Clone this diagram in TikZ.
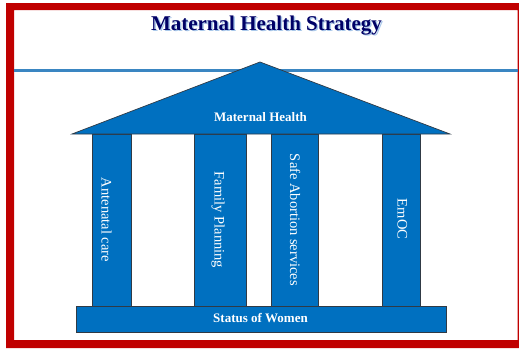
\documentclass[tikz,border=0pt]{standalone}
\usepackage{fontspec}
\setmainfont{Liberation Serif}
\definecolor{frame}{HTML}{C00000}
\definecolor{pblue}{HTML}{0070C0}
\definecolor{lineblue}{HTML}{3A86C2}
\definecolor{navy}{HTML}{000066}
\definecolor{shadowblue}{HTML}{A9C8EA}
\definecolor{edge}{HTML}{303A45}
\tikzset{
  partbox/.style={fill=pblue, draw=edge, line width=0.7pt},
  pillarbox/.style={partbox, minimum width=#1, minimum height=172pt, inner sep=0pt, anchor=north west},
  ptext/.style={text=white, font=\fontsize{14.5}{16}\selectfont, rotate=-90, anchor=base, inner sep=0pt},
  btext/.style={text=white, font=\fontsize{13}{15}\selectfont\bfseries, anchor=base, inner sep=0pt},
}
\begin{document}
\begin{tikzpicture}[x=1pt,y=-1pt]
\useasboundingbox (0,0) rectangle (519,348);
% red frame
\fill[frame, even odd rule] (6,3) rectangle (519,348) (14,10) rectangle (517.6,340);
% blue rule
\draw[lineblue, line width=3pt] (14,70) -- (517.6,70);
% title
\node[text=shadowblue, font=\fontsize{21}{24}\selectfont\bfseries, anchor=base, inner sep=0pt] (titleshadow) at (268,31.5) {Maternal Health Strategy};
\node[text=navy, font=\fontsize{21}{24}\selectfont\bfseries, anchor=base, inner sep=0pt] (title) at (266.5,30) {Maternal Health Strategy};
% pillars
\node[pillarbox=39pt] (p1) at (92,134) {};
\node[pillarbox=52pt] (p2) at (194,134) {};
\node[pillarbox=47pt] (p3) at (271,134) {};
\node[pillarbox=38pt] (p4) at (382,134) {};
\node[ptext] (t1) at (101.5,220) {Antenatal care};
\node[ptext] (t2) at (214.5,220) {Family Planning};
\node[ptext] (t3) at (290,220) {Safe Abortion services};
\node[ptext] (t4) at (397.5,219) {EmOC};
% base
\node[partbox, minimum width=370pt, minimum height=26pt, inner sep=0pt, anchor=north west] (base) at (76,306) {};
\node[btext] (basetext) at (260.5,322.7) {Status of Women};
% roof
\coordinate (roofL) at (72,134);
\coordinate (roofT) at (260,62);
\coordinate (roofR) at (450,134);
\path[partbox] (roofL) -- (roofT) -- (roofR) -- cycle;
\node[btext] (rooftext) at (260.5,121) {Maternal Health};
\end{tikzpicture}
\end{document}
